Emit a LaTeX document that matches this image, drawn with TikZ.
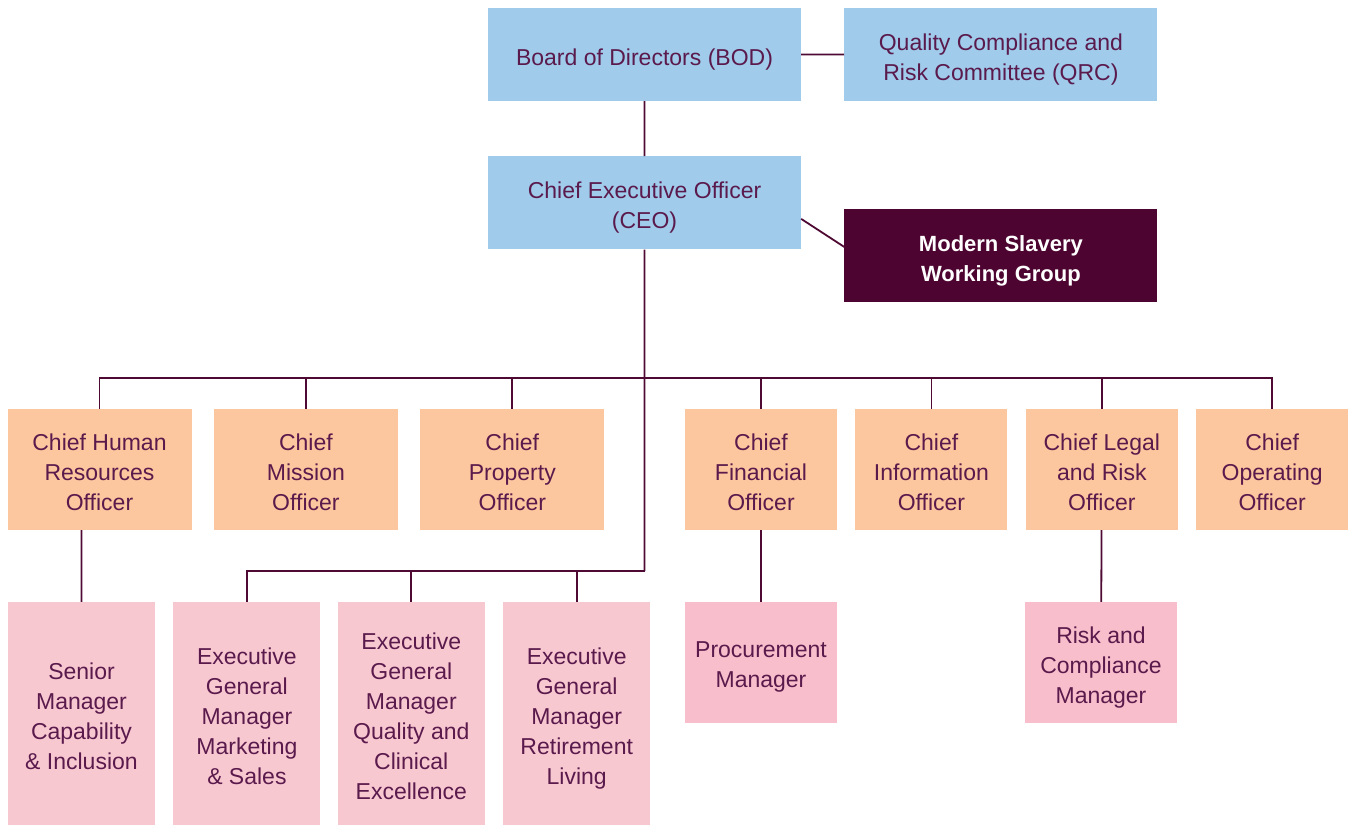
\documentclass[tikz,border=0pt]{standalone}
\usepackage{fontspec}
\setmainfont{Liberation Sans}
\usetikzlibrary{positioning}

\definecolor{plum}{HTML}{4E0A33}
\definecolor{txtplum}{HTML}{5A1A4C}
\definecolor{boardblue}{HTML}{A0CBEB}
\definecolor{chiefpeach}{HTML}{FCC69E}
\definecolor{mgrpink}{HTML}{F8C8D1}
\definecolor{mgrrose}{HTML}{F9BECB}
\definecolor{groupplum}{HTML}{4D0430}

\tikzset{
  box/.style={rectangle, inner sep=0pt, align=center, text=txtplum,
    font=\fontsize{23}{30}\selectfont, text depth=0pt,
    execute at begin node={\vbox\bgroup\vskip5pt},
    execute at end node={\egroup}},
  board/.style={box, fill=boardblue, minimum width=313pt, minimum height=93pt},
  group/.style={board, fill=groupplum, text=white,
    font=\fontsize{22}{30}\selectfont\bfseries},
  chief/.style={box, fill=chiefpeach, minimum width=152pt, minimum height=121pt},
  egm/.style={box, fill=mgrpink, minimum width=147pt, minimum height=223pt},
  mgr/.style={box, fill=mgrrose, minimum width=152pt, minimum height=121pt},
  link/.style={draw=plum, line width=1.8pt}
}

\begin{document}
\begin{tikzpicture}[x=1pt,y=-1pt]
	\useasboundingbox (0,0) rectangle (1354,826);

	% top of the chart
	\node[board] (bod) at (644.5,54.5)   {Board of Directors (BOD)};
	\node[board] (qrc) [right=43pt of bod] {Quality Compliance and\\Risk Committee (QRC)};
	\node[board] (ceo) [below=55pt of bod] {Chief Executive Officer\\(CEO)};
	\node[group] (msw) [right=43pt of ceo, yshift=-53pt] {Modern Slavery\\Working Group};

	% chiefs
	\node[chief, minimum width=184pt] (chro) at (99.5,469.5)       {Chief Human\\Resources\\Officer};
	\node[chief, minimum width=184pt] (cmo)  [right=22pt of chro]  {Chief\\Mission\\Officer};
	\node[chief, minimum width=184pt] (cpo)  [right=22pt of cmo]   {Chief\\Property\\Officer};
	\node[chief] (cfo)  at (761,469.5)         {Chief\\Financial\\Officer};
	\node[chief] (cio)  [right=18pt of cfo]    {Chief\\Information\\Officer};
	\node[chief] (clro) [right=18pt of cio]    {Chief Legal\\and Risk\\Officer};
	\node[chief] (coo)  [right=18pt of clro]   {Chief\\Operating\\Officer};

	% managers
	\node[egm] (smci) at (81.5,713.5)        {Senior\\Manager\\Capability\\\& Inclusion};
	\node[egm] (egm1) [right=18pt of smci]  {Executive\\General\\Manager\\Marketing\\\& Sales};
	\node[egm] (egm2) [right=17pt of egm1]  {Executive\\General\\Manager\\Quality and\\Clinical\\Excellence};
	\node[egm] (egm3) [right=18pt of egm2]  {Executive\\General\\Manager\\Retirement\\Living};
	\node[mgr] (proc) at (761,662.5)         {Procurement\\Manager};
	\node[mgr] (risk) at (1101,662.5)        {Risk and\\Compliance\\Manager};

	\coordinate (tbus) at (0,378);
	\coordinate (ebus) at (0,571);

	\draw[link] (bod) -- (qrc)
		(bod) -- (ceo)
		([yshift=-16pt]ceo.east) -- ([yshift=9pt]msw.west)
		(ceo.south) -- (ceo.south |- ebus);

	\draw[link] (chro.north) -- (chro.north |- tbus) -- (coo.north |- tbus) -- (coo.north);
	\foreach \n in {cmo,cpo,cfo,cio,clro}
		\draw[link] (\n.north) -- (\n.north |- tbus);

	\draw[link] (egm1.north) -- (egm1.north |- ebus) -- (ceo.south |- ebus);
	\foreach \n in {egm2,egm3}
		\draw[link] (\n.north) -- (\n.north |- ebus);

	\draw[link] (smci.north) -- (smci.north |- chro.south)
		(cfo) -- (proc)
		(clro) -- (risk);
\end{tikzpicture}
\end{document}
